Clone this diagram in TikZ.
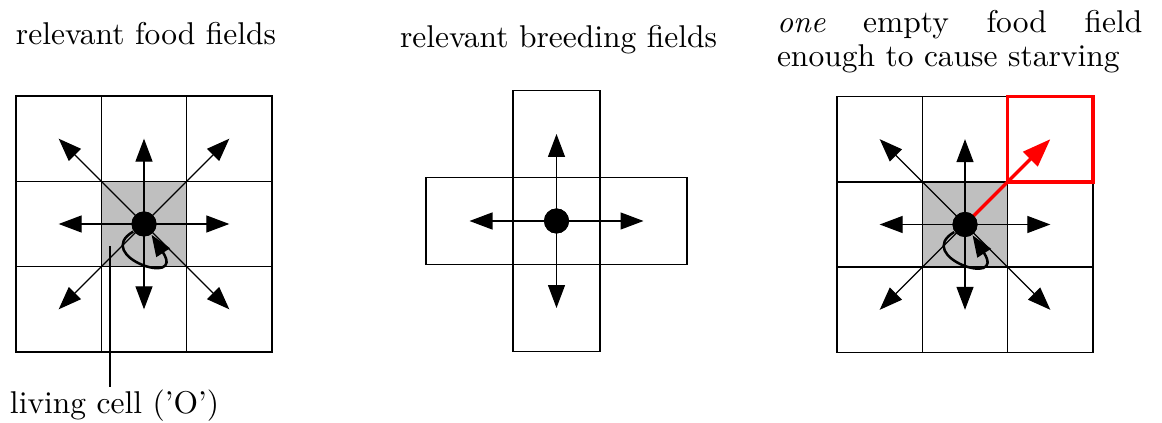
\documentclass[tikz,border=0pt]{standalone}
\usetikzlibrary{arrows.meta,calc}
\begin{document}
\begin{tikzpicture}[x=0.3175pt,y=-0.3175pt,
  cell/.style={draw, line width=0.5pt, minimum size=27.09pt, inner sep=0pt, outer sep=0pt},
  bcell/.style={cell, minimum size=27.62pt},
  dotnode/.style={circle, fill=black, minimum size=7.94pt, inner sep=0pt},
  arr/.style={line width=0.4pt, -{Triangle[length=7.3pt,width=5.4pt]}},
  redarr/.style={red, line width=1.1pt, -{Triangle[length=9pt,width=6.4pt]}},
  loopline/.style={line width=0.8pt, -{Triangle[length=6.8pt,width=5pt]}},
  pointer/.style={line width=0.8pt},
  title/.style={anchor=base west, inner sep=0pt, outer sep=0pt}
]
\useasboundingbox (0,0) rectangle (1162,423);

% ---------- grid 1 : food fields ----------
\foreach \c in {1,2,3}
  \foreach \r in {1,2,3}
    \node[cell] (g1-\c-\r) at ({16+42.67+(\c-1)*85.33},{96+42.67+(\r-1)*85.33}) {};
\fill[black!25] (g1-2-2.north west) rectangle (g1-2-2.south east);
\draw[line width=0.5pt] (g1-2-2.north west) rectangle (g1-2-2.south east);
\node[dotnode] (d1) at (g1-2-2.center) {};
\foreach \c/\r in {1/1,2/1,3/1,1/2,3/2,1/3,2/3,3/3}
  \draw[arr] (d1.center) -- (g1-\c-\r.center);
\node[dotnode] at (d1) {};
\draw[loopline] (d1.215) .. controls ($(d1)+(-52,32)$) and ($(d1)+(42,64)$) .. (d1.-55);
\node[title] (lt) at (10,414) {living cell ('O')};
\coordinate (lc1) at (110,246);
\draw[pointer] (lc1) -- (lc1 |- 0,387);
\node[title] (t1) at (16,45) {relevant food fields};

% ---------- grid 2 : breeding fields ----------
\node[bcell] (g2-c) at (556.5,221) {};
\node[bcell] (g2-n) at (556.5,134) {};
\node[bcell] (g2-s) at (556.5,308) {};
\node[bcell] (g2-w) at (469.5,221) {};
\node[bcell] (g2-e) at (643.5,221) {};
\node[dotnode] (d2) at (g2-c.center) {};
\foreach \n in {n,s,w,e}
  \draw[arr] (d2.center) -- (g2-\n.center);
\node[dotnode] at (d2) {};
\node[title] (t2) at (400,48) {relevant breeding fields};

% ---------- grid 3 : starving ----------
\foreach \c in {1,2,3}
  \foreach \r in {1,2,3}
    \node[cell] (g3-\c-\r) at ({837+42.67+(\c-1)*85.33},{96.5+42.67+(\r-1)*85.33}) {};
\fill[black!25] (g3-2-2.north west) rectangle (g3-2-2.south east);
\draw[line width=0.5pt] (g3-2-2.north west) rectangle (g3-2-2.south east);
\node[dotnode] (d3) at (g3-2-2.center) {};
\foreach \c/\r in {1/1,2/1,1/2,3/2,1/3,2/3,3/3}
  \draw[arr] (d3.center) -- (g3-\c-\r.center);
\draw[red, line width=1.1pt] (g3-3-1.north west) rectangle (g3-3-1.south east);
\draw[redarr] (d3.center) -- (g3-3-1.center);
\node[dotnode] at (d3) {};
\draw[loopline] (d3.215) .. controls ($(d3)+(-52,32)$) and ($(d3)+(42,64)$) .. (d3.-55);
\node[title] (t3a) at (777,33) {\makebox[116pt][s]{\textit{one} empty food field}};
\node[title] (t3b) at (777,67) {enough to cause starving};
\end{tikzpicture}
\end{document}
